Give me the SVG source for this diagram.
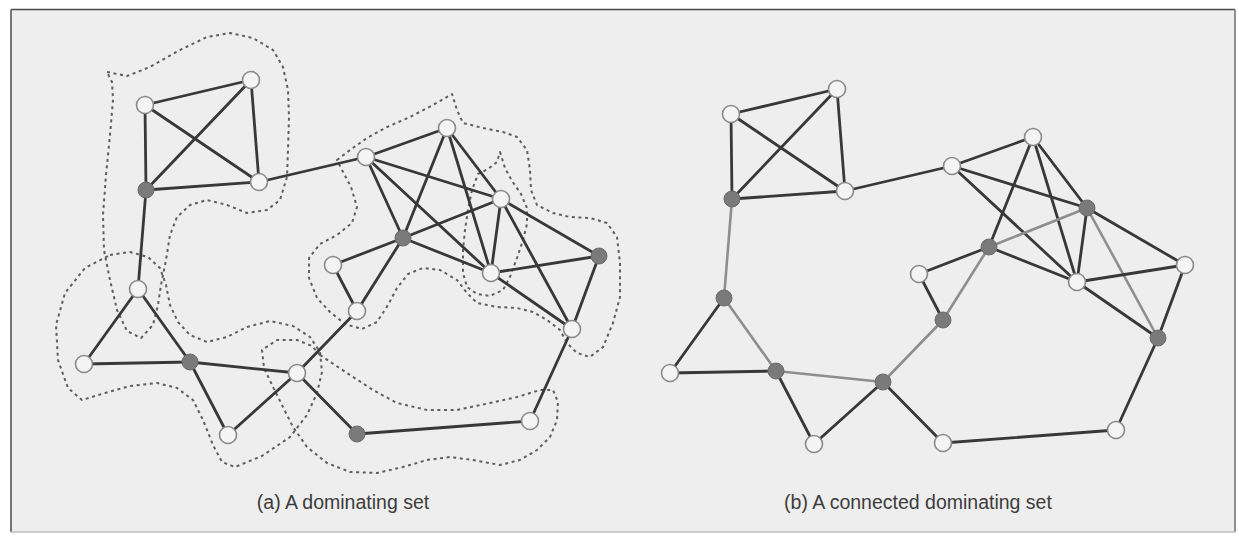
<svg xmlns="http://www.w3.org/2000/svg" width="1239" height="536" viewBox="0 0 1239 536">
<style>
.e{stroke:#383838;stroke-width:2.8;stroke-linecap:round;fill:none}
.c{stroke:#8e8e8e;stroke-width:2.6;stroke-linecap:round;fill:none}
.o{fill:#f4f4f4;stroke:#8a8a8a;stroke-width:1.6}
.d{fill:#7a7a7a;stroke:#6c6c6c;stroke-width:1}
.dot{fill:none;stroke:#5e5e5e;stroke-width:2;stroke-dasharray:3 3.6;stroke-linejoin:round}
.lbl{font-family:"Liberation Sans",Arial,sans-serif;font-size:19.5px;fill:#3c3c3c;text-anchor:middle}
</style>
<rect x="0" y="0" width="1239" height="536" fill="#ffffff"/>
<rect x="11" y="9.5" width="1224" height="522.5" fill="#eeeeee"/>
<line x1="11" y1="9.5" x2="1235" y2="9.5" stroke="#4a4a4a" stroke-width="1.6"/>
<line x1="11" y1="9.5" x2="11" y2="532" stroke="#555" stroke-width="1.6"/>
<line x1="1235" y1="9.5" x2="1235" y2="532" stroke="#777" stroke-width="1.6"/>
<line x1="11" y1="532" x2="1235" y2="532" stroke="#bdbdbd" stroke-width="1.4"/>

<g id="dominating-regions">
<path class="dot" d="M107,72 L127,76 L150,67 L180,50 L207,37 L230,33 L253,38 L273,50 L283,67 L288,90 L289,117 L288,150 L287,177 L280,200 L267,210 L247,213 L227,205 L207,200 L190,205 L177,217 L170,235 L166,260 L161,285 L158,305 L153,325 L141,338 L127,331 L117,310 L110,280 L104,250 L103,215 L106,175 L110,135 L113,100 L112,82 Z"/>
<path class="dot" d="M110,255 L130,252 L148,257 L160,268 L166,285 L170,305 L178,322 L190,335 L207,342 L227,337 L247,327 L270,321 L293,326 L310,337 L320,352 L322,372 L317,393 L307,415 L290,437 L262,456 L235,467 L222,462 L213,445 L203,420 L193,400 L177,388 L157,383 L130,386 L105,393 L82,400 L68,388 L58,360 L56,325 L65,293 L85,268 Z"/>
<path class="dot" d="M320,355 L347,373 L373,390 L397,403 L427,410 L457,410 L490,403 L517,397 L540,390 L553,390 L558,402 L557,420 L550,437 L537,450 L520,460 L500,465 L473,460 L450,457 L427,460 L403,467 L377,473 L350,472 L327,463 L307,447 L293,427 L283,407 L273,387 L264,368 L262,350 L277,340 L297,340 L312,346 Z"/>
<path class="dot" d="M337,160 L350,150 L367,138 L387,127 L410,117 L433,105 L452,94 L457,110 L463,123 L483,128 L503,132 L517,137 L527,150 L530,170 L531,190 L537,205 L553,213 L570,217 L590,218 L607,223 L617,237 L620,263 L620,297 L613,323 L603,347 L590,357 L577,353 L567,343 L560,330 L547,320 L533,312 L517,308 L497,307 L477,303 L467,293 L457,280 L440,270 L423,268 L408,274 L397,288 L388,305 L377,322 L362,329 L345,324 L330,312 L317,298 L309,278 L309,258 L320,244 L337,235 L352,223 L357,207 L351,187 L342,170 Z"/>
<path class="dot" d="M500,152 L505,168 L512,181 L521,194 L527,208 L527,224 L523,240 L517,258 L510,277 L503,290 L490,296 L477,294 L467,287 L463,273 L463,250 L465,230 L468,210 L472,190 L478,174 L488,169 L497,162 Z"/>
</g>

<g id="connectors-a">
<line class="e" x1="145" y1="105" x2="251" y2="80"/>
<line class="e" x1="145" y1="105" x2="259" y2="182"/>
<line class="e" x1="145" y1="105" x2="146" y2="190"/>
<line class="e" x1="251" y1="80" x2="259" y2="182"/>
<line class="e" x1="251" y1="80" x2="146" y2="190"/>
<line class="e" x1="259" y1="182" x2="146" y2="190"/>
<line class="e" x1="259" y1="182" x2="366" y2="157"/>
<line class="e" x1="146" y1="190" x2="138" y2="289"/>
<line class="e" x1="138" y1="289" x2="84" y2="364"/>
<line class="e" x1="138" y1="289" x2="190" y2="362"/>
<line class="e" x1="84" y1="364" x2="190" y2="362"/>
<line class="e" x1="190" y1="362" x2="297" y2="373"/>
<line class="e" x1="190" y1="362" x2="228" y2="435"/>
<line class="e" x1="297" y1="373" x2="228" y2="435"/>
<line class="e" x1="297" y1="373" x2="357" y2="311"/>
<line class="e" x1="297" y1="373" x2="357" y2="434"/>
<line class="e" x1="357" y1="434" x2="530" y2="421"/>
<line class="e" x1="530" y1="421" x2="572" y2="329"/>
<line class="e" x1="357" y1="311" x2="333" y2="265"/>
<line class="e" x1="357" y1="311" x2="403" y2="238"/>
<line class="e" x1="333" y1="265" x2="403" y2="238"/>
<line class="e" x1="366" y1="157" x2="447" y2="128"/>
<line class="e" x1="366" y1="157" x2="501" y2="199"/>
<line class="e" x1="366" y1="157" x2="403" y2="238"/>
<line class="e" x1="366" y1="157" x2="491" y2="273"/>
<line class="e" x1="447" y1="128" x2="501" y2="199"/>
<line class="e" x1="447" y1="128" x2="403" y2="238"/>
<line class="e" x1="447" y1="128" x2="491" y2="273"/>
<line class="e" x1="501" y1="199" x2="403" y2="238"/>
<line class="e" x1="501" y1="199" x2="491" y2="273"/>
<line class="e" x1="501" y1="199" x2="599" y2="256"/>
<line class="e" x1="501" y1="199" x2="572" y2="329"/>
<line class="e" x1="403" y1="238" x2="491" y2="273"/>
<line class="e" x1="491" y1="273" x2="599" y2="256"/>
<line class="e" x1="491" y1="273" x2="572" y2="329"/>
<line class="e" x1="599" y1="256" x2="572" y2="329"/>
</g>

<g id="nodes-a">
<g id="a-A"><circle class="o" cx="145" cy="105" r="8.5"/></g>
<g id="a-B"><circle class="o" cx="251" cy="80" r="8.5"/></g>
<g id="a-C"><circle class="o" cx="259" cy="182" r="8.5"/></g>
<g id="a-D"><circle class="d" cx="146" cy="190" r="8"/></g>
<g id="a-E"><circle class="o" cx="366" cy="157" r="8.5"/></g>
<g id="a-F"><circle class="o" cx="447" cy="128" r="8.5"/></g>
<g id="a-G"><circle class="o" cx="501" cy="199" r="8.5"/></g>
<g id="a-H"><circle class="d" cx="403" cy="238" r="8"/></g>
<g id="a-I"><circle class="o" cx="333" cy="265" r="8.5"/></g>
<g id="a-J"><circle class="o" cx="491" cy="273" r="8.5"/></g>
<g id="a-K"><circle class="d" cx="599" cy="256" r="8"/></g>
<g id="a-L"><circle class="o" cx="357" cy="311" r="8.5"/></g>
<g id="a-M"><circle class="o" cx="572" cy="329" r="8.5"/></g>
<g id="a-N"><circle class="o" cx="138" cy="289" r="8.5"/></g>
<g id="a-O"><circle class="o" cx="84" cy="364" r="8.5"/></g>
<g id="a-P"><circle class="d" cx="190" cy="362" r="8"/></g>
<g id="a-Q"><circle class="o" cx="297" cy="373" r="8.5"/></g>
<g id="a-R"><circle class="o" cx="228" cy="435" r="8.5"/></g>
<g id="a-S"><circle class="d" cx="357" cy="434" r="8"/></g>
<g id="a-T"><circle class="o" cx="530" cy="421" r="8.5"/></g>
</g>

<g id="graph-b" transform="translate(586,9)">
<g id="connectors-b">
<line class="e" x1="145" y1="105" x2="251" y2="80"/>
<line class="e" x1="145" y1="105" x2="259" y2="182"/>
<line class="e" x1="145" y1="105" x2="146" y2="190"/>
<line class="e" x1="251" y1="80" x2="259" y2="182"/>
<line class="e" x1="251" y1="80" x2="146" y2="190"/>
<line class="e" x1="259" y1="182" x2="146" y2="190"/>
<line class="e" x1="259" y1="182" x2="366" y2="157"/>
<line class="c" x1="146" y1="190" x2="138" y2="289"/>
<line class="e" x1="138" y1="289" x2="84" y2="364"/>
<line class="c" x1="138" y1="289" x2="190" y2="362"/>
<line class="e" x1="84" y1="364" x2="190" y2="362"/>
<line class="c" x1="190" y1="362" x2="297" y2="373"/>
<line class="e" x1="190" y1="362" x2="228" y2="435"/>
<line class="e" x1="297" y1="373" x2="228" y2="435"/>
<line class="c" x1="297" y1="373" x2="357" y2="311"/>
<line class="e" x1="297" y1="373" x2="357" y2="434"/>
<line class="e" x1="357" y1="434" x2="530" y2="421"/>
<line class="e" x1="530" y1="421" x2="572" y2="329"/>
<line class="e" x1="357" y1="311" x2="333" y2="265"/>
<line class="c" x1="357" y1="311" x2="403" y2="238"/>
<line class="e" x1="333" y1="265" x2="403" y2="238"/>
<line class="e" x1="366" y1="157" x2="447" y2="128"/>
<line class="e" x1="366" y1="157" x2="501" y2="199"/>
<line class="e" x1="366" y1="157" x2="491" y2="273"/>
<line class="e" x1="447" y1="128" x2="501" y2="199"/>
<line class="e" x1="447" y1="128" x2="403" y2="238"/>
<line class="e" x1="447" y1="128" x2="491" y2="273"/>
<line class="c" x1="501" y1="199" x2="403" y2="238"/>
<line class="e" x1="501" y1="199" x2="491" y2="273"/>
<line class="e" x1="501" y1="199" x2="599" y2="256"/>
<line class="c" x1="501" y1="199" x2="572" y2="329"/>
<line class="e" x1="403" y1="238" x2="491" y2="273"/>
<line class="e" x1="491" y1="273" x2="599" y2="256"/>
<line class="e" x1="491" y1="273" x2="572" y2="329"/>
<line class="e" x1="599" y1="256" x2="572" y2="329"/>
</g>
<g id="nodes-b">
<g id="b-A"><circle class="o" cx="145" cy="105" r="8.5"/></g>
<g id="b-B"><circle class="o" cx="251" cy="80" r="8.5"/></g>
<g id="b-C"><circle class="o" cx="259" cy="182" r="8.5"/></g>
<g id="b-D"><circle class="d" cx="146" cy="190" r="8"/></g>
<g id="b-E"><circle class="o" cx="366" cy="157" r="8.5"/></g>
<g id="b-F"><circle class="o" cx="447" cy="128" r="8.5"/></g>
<g id="b-G"><circle class="d" cx="501" cy="199" r="8"/></g>
<g id="b-H"><circle class="d" cx="403" cy="238" r="8"/></g>
<g id="b-I"><circle class="o" cx="333" cy="265" r="8.5"/></g>
<g id="b-J"><circle class="o" cx="491" cy="273" r="8.5"/></g>
<g id="b-K"><circle class="o" cx="599" cy="256" r="8.5"/></g>
<g id="b-L"><circle class="d" cx="357" cy="311" r="8"/></g>
<g id="b-M"><circle class="d" cx="572" cy="329" r="8"/></g>
<g id="b-N"><circle class="d" cx="138" cy="289" r="8"/></g>
<g id="b-O"><circle class="o" cx="84" cy="364" r="8.5"/></g>
<g id="b-P"><circle class="d" cx="190" cy="362" r="8"/></g>
<g id="b-Q"><circle class="d" cx="297" cy="373" r="8"/></g>
<g id="b-R"><circle class="o" cx="228" cy="435" r="8.5"/></g>
<g id="b-S"><circle class="o" cx="357" cy="434" r="8.5"/></g>
<g id="b-T"><circle class="o" cx="530" cy="421" r="8.5"/></g>
</g>
</g>

<g id="labels">
<text class="lbl" x="343" y="509">(a) A dominating set</text>
<text class="lbl" x="918" y="509">(b) A connected dominating set</text>
</g>
</svg>
